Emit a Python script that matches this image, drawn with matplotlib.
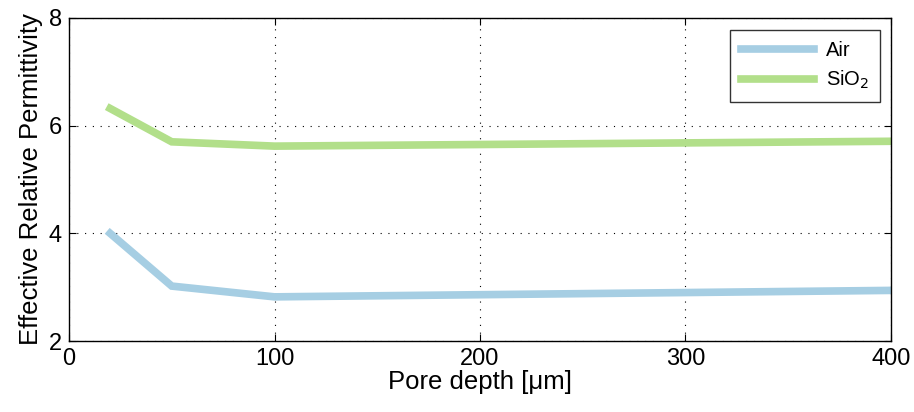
import matplotlib.pyplot as plt

plt.rcParams['font.family'] = ['Liberation Sans', 'DejaVu Sans']

# Data
depth = [20, 50, 100, 200, 300, 400]  # pore depth (um)
eps_air = [4.0, 3.02, 2.82, 2.86, 2.90, 2.94]
eps_sio2 = [6.32, 5.70, 5.62, 5.65, 5.68, 5.71]

fig = plt.figure(figsize=(9.14, 4.12), dpi=100)
ax = fig.add_axes([69 / 914, 1 - 341 / 412, (891 - 69) / 914, (341 - 18) / 412])

ax.plot(depth, eps_air, color='#a6cee3', linewidth=5.5, label='Air', solid_joinstyle='miter')
ax.plot(depth, eps_sio2, color='#b2df8a', linewidth=5.5, label='SiO$_2$', solid_joinstyle='miter')

ax.set_xlim(0, 400)
ax.set_ylim(2, 8)
ax.set_xticks([0, 100, 200, 300, 400])
ax.set_yticks([2, 4, 6, 8])
ax.grid(True, linestyle=(0, (1, 6)), color='black', linewidth=0.8)

ax.tick_params(direction='in', top=True, right=True, labelsize=17, length=5, pad=5)
for s in ax.spines.values():
    s.set_linewidth(1.0)

ax.set_xlabel('Pore depth [μm]', fontsize=18.5, labelpad=0)
ax.set_ylabel('Effective Relative Permittivity', fontsize=18.5, labelpad=4)

leg = ax.legend(loc='upper right', fontsize=14.5, fancybox=False, edgecolor='black',
                handlelength=3.6, borderpad=0.55, handletextpad=0.6, labelspacing=0.45,
                borderaxespad=0, bbox_to_anchor=(0.9866, 0.963))
leg.get_frame().set_linewidth(1.0)

plt.savefig('out.png', dpi=100)
